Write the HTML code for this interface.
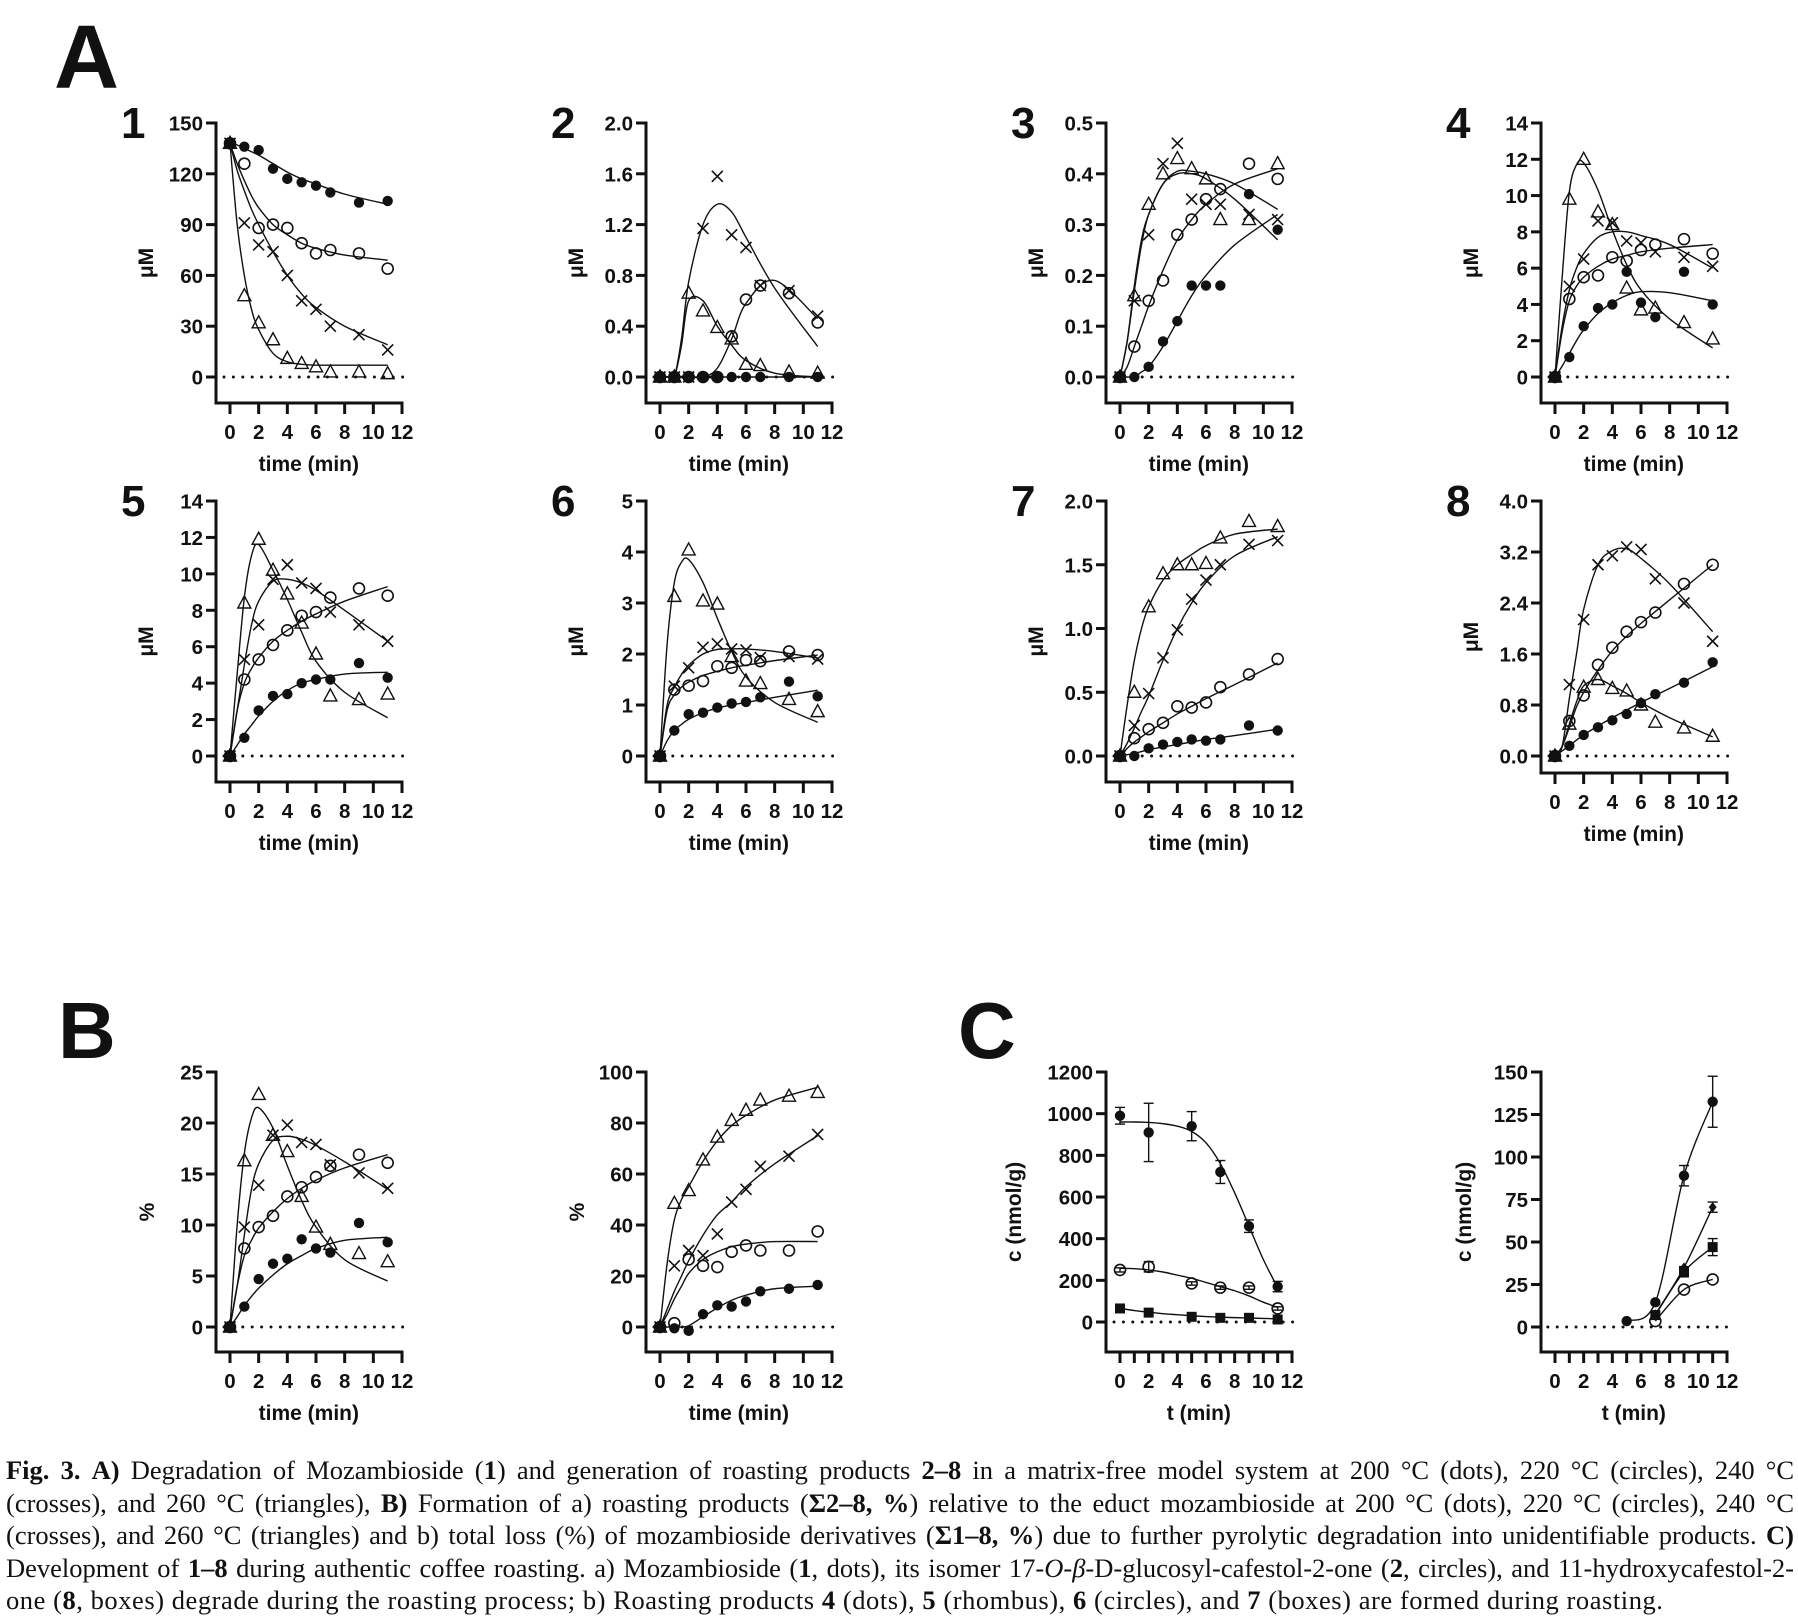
<!DOCTYPE html>
<html><head><meta charset="utf-8">
<style>
html,body{margin:0;padding:0;background:#fff;}
#wrap{position:relative;width:1798px;height:1618px;overflow:hidden;background:#fff;}
svg{position:absolute;left:0;top:0;}
svg text{font-family:"Liberation Sans",sans-serif;font-weight:bold;fill:#111;}
.cap{position:absolute;left:6px;width:1788px;font-family:"Liberation Serif",serif;font-size:26.5px;line-height:32.5px;color:#111;}
.cap div{text-align:justify;text-align-last:justify;white-space:normal;height:32.5px;overflow:hidden;}
.cap div.last{text-align-last:left;letter-spacing:0.55px;}
</style></head>
<body>
<div id="wrap">
<svg id="fig" width="1798" height="1618" viewBox="0 0 1798 1618">
<text x="54" y="88" font-size="90">A</text>
<text x="58" y="1058" font-size="80">B</text>
<text x="958" y="1058" font-size="80">C</text>
</svg>
<div class="cap" style="top:1454px">
<div><b>Fig. 3.</b> <b>A)</b> Degradation of Mozambioside (<b>1</b>) and generation of roasting products <b>2–8</b> in a matrix-free model system at 200 °C (dots), 220 °C (circles), 240 °C</div>
<div>(crosses), and 260 °C (triangles), <b>B)</b> Formation of a) roasting products (<b>Σ2–8, %</b>) relative to the educt mozambioside at 200 °C (dots), 220 °C (circles), 240 °C</div>
<div>(crosses), and 260 °C (triangles) and b) total loss (%) of mozambioside derivatives (<b>Σ1–8, %</b>) due to further pyrolytic degradation into unidentifiable products. <b>C)</b></div>
<div>Development of <b>1–8</b> during authentic coffee roasting. a) Mozambioside (<b>1</b>, dots), its isomer 17-<i>O</i>-<i>β</i>-D-glucosyl-cafestol-2-one (<b>2</b>, circles), and 11-hydroxycafestol-2-</div>
<div class="last">one (<b>8</b>, boxes) degrade during the roasting process; b) Roasting products <b>4</b> (dots), <b>5</b> (rhombus), <b>6</b> (circles), and <b>7</b> (boxes) are formed during roasting.</div>
</div>
</div>
<script>
// ---- data ----
const T = [0,1,2,3,4,5,6,7,9,11];
const CT = [0,0.5,1,1.5,2,3,4,5,6,8,11];
const xTickLabels = ["0","2","4","6","8","10","12"];

const p1Dots = [138,136,134,123,117,115,113,109,103,104];
const p1Circ = [138,126,88,90,88,79,73,75,73,64];
const p1Cross = [138,91,78,74,60,45,40,30,25,16];
const p1Tri = [138,48,32,22,11,8,6,3,3,2];
const p1DotsFit = [139,137,135,133,131,126,121,117,114,108,102];
const p1CircFit = [138,126,116,107,100,90,84,79,76,72,69];
const p1CrossFit = [138,122,110,99,90,74,60,49,41,30,19];
const p1TriFit = [138,90,60,40,28,14,9,7.5,7,7,7];
const p1Ticks = ["0","30","60","90","120","150"];

const p2Dots = [0,0,0,0,0,0,0,0,0,0];
const p2Circ = [0,0,0,0,0,0.32,0.61,0.72,0.66,0.43];
const p2Cross = [0,0,0,1.17,1.58,1.12,1.02,0.72,0.68,0.48];
const p2Tri = [0,0,0.66,0.52,0.39,0.3,0.1,0.09,0.04,0.03];
const p2DotsFit = [0,0,0,0,0,0,0,0,0,0,0];
const p2CircFit = [0,0,0,0,0,0,0.07,0.3,0.58,0.76,0.46];
const p2CrossFit = [0,0,0,0.3,0.75,1.2,1.36,1.3,1.1,0.7,0.24];
const p2TriFit = [0,0,0,0.25,0.6,0.6,0.4,0.25,0.13,0.03,0];
const p2Ticks = ["0.0","0.4","0.8","1.2","1.6","2.0"];

const p3Dots = [0,0,0.02,0.07,0.11,0.18,0.18,0.18,0.36,0.29];
const p3Circ = [0,0.06,0.15,0.19,0.28,0.31,0.35,0.37,0.42,0.39];
const p3Cross = [0,0.15,0.28,0.42,0.46,0.35,0.34,0.34,0.32,0.31];
const p3Tri = [0,0.16,0.34,0.40,0.43,0.41,0.39,0.31,0.31,0.42];
const p3DotsFit = [0,0,0,0.01,0.02,0.06,0.11,0.16,0.2,0.26,0.32];
const p3CircFit = [0,0.02,0.06,0.1,0.14,0.21,0.27,0.31,0.34,0.38,0.41];
const p3CrossFit = [0,0.07,0.18,0.27,0.32,0.38,0.4,0.4,0.39,0.35,0.27];
const p3TriFit = [0,0.07,0.17,0.26,0.32,0.38,0.405,0.405,0.4,0.38,0.33];
const p3Ticks = ["0.0","0.1","0.2","0.3","0.4","0.5"];

const p4Dots = [0,1.1,2.8,3.8,4.0,5.8,4.1,3.3,5.8,4.0];
const p4Circ = [0,4.3,5.5,5.6,6.6,6.4,7.0,7.3,7.6,6.8];
const p4Cross = [0,5.0,6.5,8.6,8.5,7.5,7.4,6.9,6.6,6.1];
const p4Tri = [0,9.8,12.0,9.1,8.4,4.9,3.7,3.8,3.0,2.1];
const p4DotsFit = [0,0.6,1.3,2.0,2.6,3.5,4.1,4.5,4.7,4.65,4.2];
const p4CircFit = [0,2.5,4.2,5.0,5.5,6.1,6.5,6.7,6.9,7.1,7.3];
const p4CrossFit = [0,2.8,4.8,6.0,6.8,7.7,8.0,8.0,7.8,7.3,6.0];
const p4TriFit = [0,5.5,10.2,11.7,11.8,10.3,8.1,6.2,4.8,3.2,1.6];
const p4Ticks = ["0","2","4","6","8","10","12","14"];

const p5Dots = [0,1.0,2.5,3.3,3.4,4.0,4.2,4.2,5.1,4.3];
const p5Circ = [0,4.2,5.3,6.1,6.9,7.7,7.9,8.7,9.2,8.8];
const p5Cross = [0,5.3,7.2,9.7,10.5,9.5,9.2,7.9,7.2,6.3];
const p5Tri = [0,8.4,11.9,10.2,8.9,7.3,5.6,3.3,3.1,3.4];
const p5DotsFit = [0,0.6,1.2,1.7,2.2,3.0,3.6,4.0,4.2,4.5,4.6];
const p5CircFit = [0,2.5,4.0,4.8,5.4,6.3,6.9,7.4,7.8,8.5,9.3];
const p5CrossFit = [0,2.5,5.0,7.2,8.5,9.6,9.7,9.5,9.1,8.0,6.3];
const p5TriFit = [0,4.5,8.7,11.0,11.6,10.2,8.6,6.8,5.2,3.5,2.1];
const p5Ticks = ["0","2","4","6","8","10","12","14"];

const p6Dots = [0,0.5,0.82,0.85,0.95,1.03,1.06,1.15,1.46,1.17];
const p6Circ = [0,1.3,1.38,1.47,1.76,1.73,1.88,1.86,2.05,1.98];
const p6Cross = [0,1.37,1.73,2.13,2.2,2.1,2.08,1.93,1.95,1.9];
const p6Tri = [0,3.13,4.04,3.04,2.98,1.95,1.47,1.42,1.11,0.87];
const p6DotsFit = [0,0.3,0.5,0.62,0.72,0.85,0.94,1.0,1.05,1.15,1.29];
const p6CircFit = [0,0.9,1.2,1.35,1.45,1.58,1.66,1.73,1.78,1.87,1.98];
const p6CrossFit = [0,1.0,1.35,1.6,1.78,2.0,2.09,2.1,2.1,2.05,1.92];
const p6TriFit = [0,2.2,3.4,3.8,3.85,3.4,2.7,2.05,1.55,1.05,0.66];
const p6Ticks = ["0","1","2","3","4","5"];

const p7Dots = [0,0,0.06,0.09,0.11,0.13,0.12,0.13,0.24,0.2];
const p7Circ = [0,0.14,0.21,0.26,0.39,0.38,0.42,0.54,0.64,0.76];
const p7Cross = [0,0.24,0.49,0.77,0.99,1.23,1.38,1.5,1.66,1.69];
const p7Tri = [0,0.5,1.17,1.43,1.5,1.5,1.51,1.71,1.84,1.8];
const p7DotsFit = [0,0.01,0.02,0.035,0.05,0.07,0.09,0.11,0.13,0.16,0.21];
const p7CircFit = [0,0.06,0.11,0.15,0.19,0.26,0.33,0.39,0.45,0.56,0.73];
const p7CrossFit = [0,0.1,0.22,0.35,0.47,0.75,1.0,1.2,1.36,1.57,1.72];
const p7TriFit = [0,0.4,0.75,1.0,1.17,1.38,1.5,1.58,1.65,1.74,1.78];
const p7Ticks = ["0.0","0.5","1.0","1.5","2.0"];

const p8Dots = [0,0.16,0.33,0.45,0.56,0.66,0.83,0.97,1.15,1.47];
const p8Circ = [0,0.55,0.95,1.43,1.7,1.95,2.1,2.25,2.7,3.0];
const p8Cross = [0,1.12,2.14,3.0,3.14,3.28,3.24,2.78,2.4,1.8];
const p8Tri = [0,0.5,1.08,1.2,1.06,1.02,0.8,0.53,0.44,0.31];
const p8DotsFit = [0,0.08,0.16,0.25,0.33,0.47,0.6,0.72,0.84,1.06,1.4];
const p8CircFit = [0,0.15,0.45,0.77,1.0,1.35,1.65,1.88,2.08,2.45,3.0];
const p8CrossFit = [0,0.15,0.9,1.6,2.3,3.0,3.22,3.25,3.1,2.7,1.95];
const p8TriFit = [0,0.15,0.5,0.85,1.1,1.2,1.1,0.98,0.84,0.6,0.3];
const p8Ticks = ["0.0","0.8","1.6","2.4","3.2","4.0"];

const b1Dots = [0,2,4.7,6.2,6.7,8.6,7.7,7.3,10.2,8.3];
const b1Circ = [0,7.7,9.8,10.9,12.8,13.7,14.7,15.8,16.9,16.1];
const b1Cross = [0,9.8,13.9,18.8,19.8,18.1,17.9,15.9,15.1,13.6];
const b1Tri = [0,16.3,22.8,18.8,17.2,12.8,9.8,8.1,7.2,6.4];
const b1DotsFit = [0,1,2.1,3.0,3.8,5.1,6.2,7.0,7.7,8.5,8.8];
const b1CircFit = [0,4,7.0,8.5,9.7,11.3,12.6,13.6,14.4,15.6,16.9];
const b1CrossFit = [0,4,9,13.5,16.0,18.3,18.7,18.4,17.8,16.2,13.5];
const b1TriFit = [0,10,17,20.5,21.5,19.5,15.8,12.4,9.8,6.6,4.5];
const b1Ticks = ["0","5","10","15","20","25"];

const b2Dots = [0,-0.5,-1.5,5,8.5,8,10,14,15,16.5];
const b2Circ = [0,1.5,26.5,24,23.5,29.5,32,30,30,37.5];
const b2Cross = [0,24,30,28,36.5,49,54,63,67,75.5];
const b2Tri = [0,48.5,53.5,65.5,74.5,81,85,89,90.5,92];
const b2DotsFit = [0,0,0,0,0.5,4,7.5,10.5,12.5,15,16];
const b2CircFit = [0,5,11,16,21,26.5,29.5,31.5,32.5,33.5,33.5];
const b2CrossFit = [0,7,14,20,26,36,44,49,55,64,75];
const b2TriFit = [0,25,42,50,55,65,73,79,83,89,94];
const b2Ticks = ["0","20","40","60","80","100"];

const cT = [0,2,5,7,9,11];
const cFitT = [0,1,2,3,4,5,6,7,8,9,10,11];
const c1Dots = [990,910,940,720,460,170];
const c1DotsErr = [40,140,70,55,30,25];
const c1Circ = [250,265,185,165,165,65];
const c1CircErr = [10,25,8,8,8,8];
const c1Box = [65,45,25,20,20,12];
const c1DotsFit = [960,960,958,952,940,915,860,760,620,460,300,165];
const c1CircFit = [258,256,250,240,225,210,190,170,150,125,95,70];
const c1BoxFit = [65,55,47,40,35,30,26,23,21,19,17,15];
const c1Ticks = ["0","200","400","600","800","1000","1200"];

const c2DotsT = [5,7,9,11];
const c2Dots = [3.5,14.5,89,132.5];
const c2DotsErr = [0,0,6,15];
const c2OtherT = [7,9,11];
const c2Diam = [7.5,35,70.5];
const c2DiamErr = [0,0,3];
const c2Box = [7,32.5,47];
const c2BoxErr = [0,3,5];
const c2Circ = [3.5,22,28];
const c2Ticks = ["0","25","50","75","100","125","150"];

// ---- drawing ----
const NS = "http://www.w3.org/2000/svg";
const svg = document.getElementById("fig");
function mk(tag, attrs, parent){
  const e = document.createElementNS(NS, tag);
  for (const k in attrs) e.setAttribute(k, attrs[k]);
  (parent||svg).appendChild(e);
  return e;
}
const PX = 172/12;
function makePanel(cfg){
  const g = mk("g", {});
  
  
  const x0 = cfg.ax + 14;
  const sx = t => x0 + t*PX;
  const sy = v => cfg.zero - v/cfg.ymax*(cfg.zero - cfg.top);
  const x12 = sx(12);
  const ya = mk("line", {x1:cfg.ax, y1:cfg.top-1.5, x2:cfg.ax, y2:cfg.bottom+1.5, stroke:"#111","stroke-width":3}, g);
  
  
  const xa = mk("line", {x1:cfg.ax-1.5, y1:cfg.bottom, x2:x12+1.5, y2:cfg.bottom, stroke:"#111","stroke-width":3}, g);
  
  
  const n = cfg.ticks.length - 1;
  cfg.ticks.forEach((lab, i) => {
    const y = cfg.zero - i/n*(cfg.zero - cfg.top);
    mk("line", {x1:cfg.ax-10, y1:y, x2:cfg.ax, y2:y, stroke:"#111","stroke-width":3}, g);
    const tx = mk("text", {x:cfg.ax-13, y:y+7.5, "font-size":20.5, "text-anchor":"end"}, g);
    tx.textContent = lab;
    
    
  });
  const step = cfg.minor ? 1 : 2;
  for (let t = 0; t <= 12; t += step){
    mk("line", {x1:sx(t), y1:cfg.bottom, x2:sx(t), y2:cfg.bottom+11, stroke:"#111","stroke-width":3}, g);
  }
  xTickLabels.forEach((lab, i) => {
    const tx = mk("text", {x:sx(i*2), y:cfg.bottom+36, "font-size":20.5, "text-anchor":"middle"}, g);
    tx.textContent = lab;
    
    
  });
  const xt = mk("text", {x:sx(5.5), y:cfg.bottom+68, "font-size":21, "text-anchor":"middle"}, g);
  xt.textContent = cfg.xlabel;
  
  
  const ymid = (cfg.top + cfg.bottom)/2;
  const yt = mk("text", {x:cfg.ax-cfg.ylOff, y:ymid, "font-size":21, "text-anchor":"middle", transform:`rotate(-90 ${cfg.ax-cfg.ylOff} ${ymid})`}, g);
  yt.textContent = cfg.ylabel;
  
  
  if (cfg.num){
    const nt = mk("text", {x:cfg.ax-95, y:cfg.top+15, "font-size":44}, g);
    nt.textContent = cfg.num;
    
    
  }
  const zl = mk("line", {x1:(cfg.zx0!==undefined?sx(cfg.zx0):x0-6), y1:sy(0), x2:x12+3, y2:sy(0), stroke:"#111","stroke-width":3,"stroke-dasharray":"0 9.4","stroke-linecap":"round"}, g);
  
  
  return {g, sx, sy};
}
function curve(p, ts, vals, name){
  const pts = ts.map((t,i)=>[p.sx(t), p.sy(vals[i])]);
  let d = `M${pts[0][0]},${pts[0][1]}`;
  for (let i=0;i<pts.length-1;i++){
    const p0 = pts[Math.max(0,i-1)], p1 = pts[i], p2 = pts[i+1], p3 = pts[Math.min(pts.length-1,i+2)];
    const c1x = p1[0]+(p2[0]-p0[0])/6, c1y = p1[1]+(p2[1]-p0[1])/6;
    const c2x = p2[0]-(p3[0]-p1[0])/6, c2y = p2[1]-(p3[1]-p1[1])/6;
    d += ` C${c1x},${c1y} ${c2x},${c2y} ${p2[0]},${p2[1]}`;
  }
  const e = mk("path", {d, fill:"none", stroke:"#111", "stroke-width":1.4}, p.g);
  
  
}
function marks(p, ts, vals, type, name, errs){
  ts.forEach((t,i)=>{
    const x = p.sx(t), y = p.sy(vals[i]);
    if (errs && errs[i] > 0){
      const y1 = p.sy(vals[i]+errs[i]), y2 = p.sy(vals[i]-errs[i]);
      mk("line",{x1:x,y1:y1,x2:x,y2:y2,stroke:"#111","stroke-width":1.4},p.g);
      mk("line",{x1:x-5,y1:y1,x2:x+5,y2:y1,stroke:"#111","stroke-width":1.4},p.g);
      mk("line",{x1:x-5,y1:y2,x2:x+5,y2:y2,stroke:"#111","stroke-width":1.4},p.g);
    }
    let e;
    if (type==="dot") e = mk("circle",{cx:x,cy:y,r:5.2,fill:"#111"},p.g);
    else if (type==="circ") e = mk("circle",{cx:x,cy:y,r:5.5,fill:"none",stroke:"#111","stroke-width":1.6},p.g);
    else if (type==="cross") e = mk("path",{d:`M${x-5.5},${y-5.5}L${x+5.5},${y+5.5}M${x-5.5},${y+5.5}L${x+5.5},${y-5.5}`,stroke:"#111","stroke-width":1.6,fill:"none"},p.g);
    else if (type==="tri") e = mk("path",{d:`M${x},${y-7}L${x-6.5},${y+5}L${x+6.5},${y+5}Z`,stroke:"#111","stroke-width":1.4,fill:"none"},p.g);
    else if (type==="box") e = mk("rect",{x:x-5,y:y-5,width:10,height:10,fill:"#111"},p.g);
    else if (type==="diam") e = mk("path",{d:`M${x},${y-5}L${x+4},${y}L${x},${y+5}L${x-4},${y}Z`,fill:"#111"},p.g);
    
    
  });
}
const cols = [216, 646, 1106, 1541];
const rowA1 = {top:123, zero:377, bottom:403};
const rowA2 = {top:501, zero:756, bottom:782};
const A = [
  {num:"1", ax:cols[0], r:rowA1, ymax:150, ticks:p1Ticks, d:[p1Dots,p1Circ,p1Cross,p1Tri], f:[p1DotsFit,p1CircFit,p1CrossFit,p1TriFit]},
  {num:"2", ax:cols[1], r:rowA1, ymax:2, ticks:p2Ticks, d:[p2Dots,p2Circ,p2Cross,p2Tri], f:[p2DotsFit,p2CircFit,p2CrossFit,p2TriFit]},
  {num:"3", ax:cols[2], r:rowA1, ymax:0.5, ticks:p3Ticks, d:[p3Dots,p3Circ,p3Cross,p3Tri], f:[p3DotsFit,p3CircFit,p3CrossFit,p3TriFit]},
  {num:"4", ax:cols[3], r:rowA1, ymax:14, ticks:p4Ticks, d:[p4Dots,p4Circ,p4Cross,p4Tri], f:[p4DotsFit,p4CircFit,p4CrossFit,p4TriFit]},
  {num:"5", ax:cols[0], r:rowA2, ymax:14, ticks:p5Ticks, d:[p5Dots,p5Circ,p5Cross,p5Tri], f:[p5DotsFit,p5CircFit,p5CrossFit,p5TriFit]},
  {num:"6", ax:cols[1], r:rowA2, ymax:5, ticks:p6Ticks, d:[p6Dots,p6Circ,p6Cross,p6Tri], f:[p6DotsFit,p6CircFit,p6CrossFit,p6TriFit]},
  {num:"7", ax:cols[2], r:rowA2, ymax:2, ticks:p7Ticks, d:[p7Dots,p7Circ,p7Cross,p7Tri], f:[p7DotsFit,p7CircFit,p7CrossFit,p7TriFit]},
  {num:"8", ax:cols[3], r:{top:501, zero:756, bottom:773}, ymax:4, ticks:p8Ticks, d:[p8Dots,p8Circ,p8Cross,p8Tri], f:[p8DotsFit,p8CircFit,p8CrossFit,p8TriFit]},
  {num:"", ax:cols[0], r:{top:1072, zero:1327, bottom:1352}, ymax:25, ticks:b1Ticks, yl:"%", d:[b1Dots,b1Circ,b1Cross,b1Tri], f:[b1DotsFit,b1CircFit,b1CrossFit,b1TriFit]},
  {num:"", ax:cols[1], r:{top:1072, zero:1327, bottom:1352}, ymax:100, ticks:b2Ticks, yl:"%", d:[b2Dots,b2Circ,b2Cross,b2Tri], f:[b2DotsFit,b2CircFit,b2CrossFit,b2TriFit]}
];
const types = ["dot","circ","cross","tri"];
const sNames = ["200c","220c","240c","260c"];
A.forEach((c, k) => {
  const p = makePanel({name: c.num ? "panel-compound-"+c.num : "panel-b"+(k-7), ax:c.ax, top:c.r.top, zero:c.r.zero, bottom:c.r.bottom, ymax:c.ymax, ticks:c.ticks, xlabel:"time (min)", ylabel:c.yl||"μM", ylOff:c.yl?62:63, num:c.num});
  c.f.forEach((vals,i)=>curve(p, CT, vals, "fit-curve-"+sNames[i]));
  c.d.forEach((vals,i)=>marks(p, T, vals, types[i], "point-"+sNames[i]));
});
const pc1 = makePanel({name:"panel-c-degradation", ax:cols[2], top:1072, zero:1322, bottom:1352, ymax:1200, ticks:c1Ticks, xlabel:"t (min)", ylabel:"c (nmol/g)", ylOff:85, minor:true});
curve(pc1, cFitT, c1DotsFit, "fit-curve-mozambioside");
curve(pc1, cFitT, c1CircFit, "fit-curve-isomer");
curve(pc1, cFitT, c1BoxFit, "fit-curve-compound-8");
marks(pc1, cT, c1Dots, "dot", "point-mozambioside", c1DotsErr);
marks(pc1, cT, c1Circ, "circ", "point-isomer", c1CircErr);
marks(pc1, cT, c1Box, "box", "point-compound-8");
const pc2 = makePanel({name:"panel-c-formation", ax:cols[3], top:1072, zero:1327, bottom:1352, ymax:150, ticks:c2Ticks, xlabel:"t (min)", ylabel:"c (nmol/g)", ylOff:70, minor:true, zx0:-0.5});
curve(pc2, c2DotsT, c2Dots, "fit-curve-compound-4");
curve(pc2, c2OtherT, c2Diam, "fit-curve-compound-5");
curve(pc2, c2OtherT, c2Box, "fit-curve-compound-7");
curve(pc2, c2OtherT, c2Circ, "fit-curve-compound-6");
marks(pc2, c2DotsT, c2Dots, "dot", "point-compound-4", c2DotsErr);
marks(pc2, c2OtherT, c2Diam, "diam", "point-compound-5", c2DiamErr);
marks(pc2, c2OtherT, c2Box, "box", "point-compound-7", c2BoxErr);
marks(pc2, c2OtherT, c2Circ, "circ", "point-compound-6");
</script>
</body></html>
